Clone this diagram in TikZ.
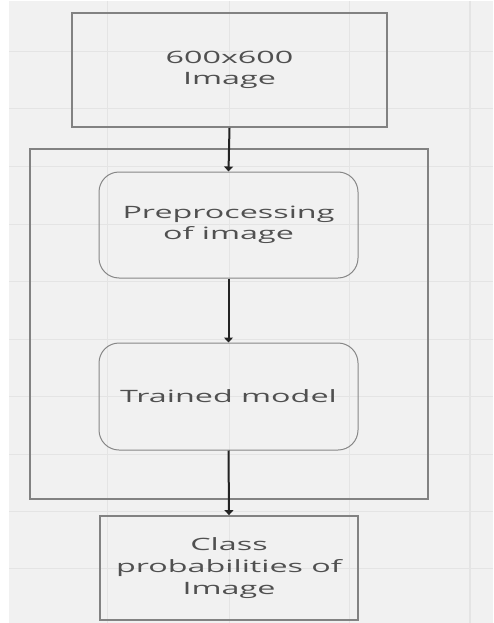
\documentclass[tikz,border=0pt]{standalone}
\usepackage{fontspec}
\setmainfont[FakeStretch=1.9]{Open Sans}
\usetikzlibrary{arrows.meta}
\definecolor{bgc}{RGB}{241,241,241}
\definecolor{gridc}{RGB}{228,228,228}
\definecolor{boxc}{RGB}{130,130,130}
\definecolor{rboxc}{RGB}{135,135,135}
\definecolor{txtc}{RGB}{80,80,80}
\definecolor{arrc}{RGB}{35,35,35}
\tikzset{
  sqbox/.style={draw=boxc, line width=1.8pt, rectangle, inner sep=0pt, align=center, text=txtc,
     font=\fontsize{17}{21.6}\selectfont},
  rbox/.style={draw=rboxc, line width=1pt, rectangle, rounded corners=20pt, inner sep=0pt, align=center, text=txtc,
     font=\fontsize{17}{21.6}\selectfont},
  outerbox/.style={draw=boxc, line width=1.8pt, rectangle, inner sep=0pt},
  flow/.style={draw=arrc, line width=2pt, -{Triangle[width=9pt,length=5pt]}},
  gridl/.style={draw=gridc, line width=1pt}
}
\begin{document}
\begin{tikzpicture}[x=1pt,y=-1pt]
\useasboundingbox (0,0) rectangle (493,623);
\fill[white] (0,0) rectangle (493,623);
\fill[bgc] (9,1) rectangle (493,623);
% grid
\foreach \gx in {107,229,349} { \draw[gridl] (\gx,1) -- (\gx,623); }
\draw[gridl, line width=2.5pt] (470,1) -- (470,623);
\foreach \gy in {52,109,166,224,281,339,396,454,511,568} { \draw[gridl] (9,\gy) -- (493,\gy); }
% boxes
\node[outerbox, minimum width=398pt, minimum height=350pt] (outer) at (229,324) {};
\node[sqbox, minimum width=315pt, minimum height=114pt] (img) at (229.5,70) {600x600\\Image};
\node[rbox, minimum width=259pt, minimum height=106pt] (pre) at (228.5,225) {Preprocessing\\of image};
\node[rbox, minimum width=259pt, minimum height=107pt] (model) at (228.5,396.5) {Trained model};
\node[sqbox, minimum width=258pt, minimum height=104pt] (cls) at (229,568) {Class\\probabilities of\\Image};
% arrows
\draw[flow] (img.south) -- (pre.north);
\draw[flow] (pre.south) -- (model.north);
\draw[flow] (model.south) -- (cls.north);
\end{tikzpicture}
\end{document}
